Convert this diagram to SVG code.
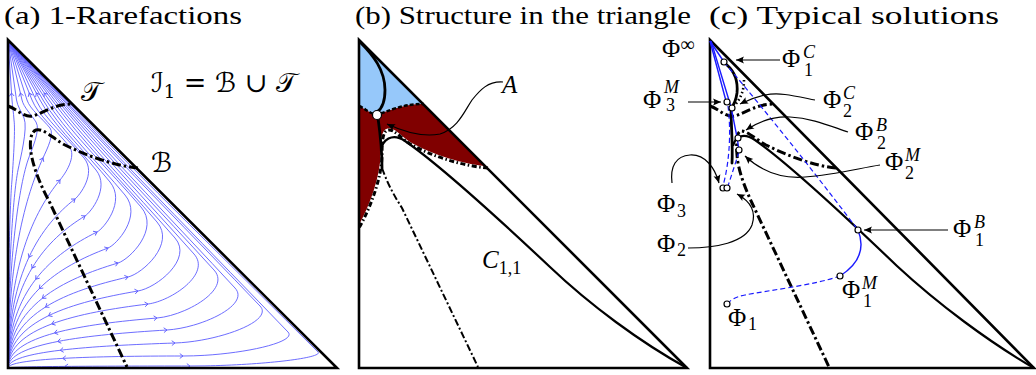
<svg xmlns="http://www.w3.org/2000/svg" width="1036" height="375" viewBox="0 0 1036 375">
<defs>
<style>
.title{font-family:"Liberation Serif","Times New Roman",Times,serif;font-size:25px;fill:#000}
.m{font-family:"Liberation Serif","Times New Roman",Times,serif;font-size:25px;fill:#000}
.cal{font-family:"DejaVu Serif","DejaVu Sans","Noto Sans",serif;font-size:27px;fill:#000}
.s{font-size:18px}
.i{font-style:italic}
.tri{fill:none;stroke:#000;stroke-width:2.6}
.ln{fill:none;stroke:#000;stroke-width:2.2}
.thick{fill:none;stroke:#000;stroke-width:2.8;stroke-linecap:round}
.sl{fill:none;stroke:#5c5cff;stroke-width:0.9}
.dd{fill:none;stroke:#000;stroke-width:3;stroke-dasharray:9 3 2.5 3}
.dd2{fill:none;stroke:#000;stroke-width:2;stroke-dasharray:7 2.5 2 2.5}
.arr{fill:none;stroke:#000;stroke-width:1.2;marker-end:url(#ah)}
.bs{fill:none;stroke:#1a1aff;stroke-width:1.4}
.bd{fill:none;stroke:#1a1aff;stroke-width:1.2;stroke-dasharray:5 3}
.pt{fill:#fff;stroke:#000;stroke-width:1.2}
</style>
<marker id="ah" viewBox="-9 -5 10 10" refX="0" refY="0" markerWidth="10" markerHeight="10" markerUnits="userSpaceOnUse" orient="auto"><path d="M0,0 L-8,-3.5 Q-5.5,0 -8,3.5 Z" fill="#000"/></marker>
<path id="chv" d="M-3.2,-2.4 L0,0 L-3.2,2.4" fill="none" stroke="#5c5cff" stroke-width="0.9"/>
</defs>
<rect width="1036" height="375" fill="#fff"/>

<g id="titles">
<text class="title" x="4" y="24" textLength="238" lengthAdjust="spacingAndGlyphs">(a) 1-Rarefactions</text>
<text class="title" x="355" y="24" textLength="336" lengthAdjust="spacingAndGlyphs">(b) Structure in the triangle</text>
<text class="title" x="709" y="24" textLength="290" lengthAdjust="spacingAndGlyphs">(c) Typical solutions</text>
</g>

<g id="panel-a">
<g id="streamlines">
<path class="sl" d="M8,368 C8,366.4 99,366 190,366 C254,366 324.3,358.3 318,352 C229.8,263.8 147.2,184 66,100 L8,40"/>
<path class="sl" d="M8,368 C8,358.4 95.5,356 183,356 C235.5,356 298.4,342.8 288,332 C209.8,250.8 137.3,177.3 64.5,100 L8,40"/>
<path class="sl" d="M8,368 C8,351.2 91.5,345.8 175,343 C217.5,341.6 274.6,321.3 260,306 C191.1,233.9 125.9,168.7 63,100 L8,40"/>
<path class="sl" d="M8,368 C8,343.2 87.5,334.8 167,330 C201,327.9 250.8,305.1 235,288 C174.1,222.2 116.3,162.7 61,100 L8,40"/>
<path class="sl" d="M8,368 C8,335.2 82.5,324.2 157,318 C185.5,315.6 231.8,289.5 214,270 C159.7,210.5 107.2,156.7 59,100 L8,40"/>
<path class="sl" d="M8,368 C8,327.2 78,312.7 148,304 C171,301.1 211.7,273.9 194,254 C146,200.1 98.9,151.3 57,100 L8,40"/>
<path class="sl" d="M8,368 C8,320 73,302.1 138,291 C156.5,287.9 193.3,259 175,238 C132.8,189.7 90.2,146 54.5,100 L8,40"/>
<path class="sl" d="M8,368 C8,312.8 68,290.9 128,277 C142.5,273.6 175.7,243.7 157,222 C120.2,179.3 81.8,140.7 52,100 L8,40"/>
<path class="sl" d="M8,368 C8,305.6 63,279.5 118,263 C129.5,259.5 160,229.1 141,207 C108.8,169.5 73.4,135.7 49,100 L8,40"/>
<path class="sl" d="M8,368 C8,297.6 58,266.8 108,248 C116.5,244.8 142.5,216 125,195 C97.3,161.7 66.1,131.7 46,100 L8,40"/>
<path class="sl" d="M8,368 C8,290.4 52.5,254 97,232 C103.5,228.8 126,201.6 110,182 C86.6,153.3 59,127.3 43,100 L8,40"/>
<path class="sl" d="M8,368 C8,280.8 46.5,239.3 85,216 C90.5,212.7 110.2,187.7 96,170 C76.4,145.5 52.4,123.3 40,100 L8,40"/>
<path class="sl" d="M8,368 C8,272 41.5,225.1 75,199 C79.5,195.5 96.7,173.3 84,158 C67.2,137.7 45,119.3 36,100 L8,40"/>
<path class="sl" d="M8,368 C8,265.6 34,211.2 60,180 C64.5,174.6 77.4,156.4 69,146 C56.1,129.9 38.1,115.3 32,100 L8,40"/>
<path class="sl" d="M8,368 C8,259.2 25.5,196.2 43,158 C47.5,148.2 54.5,134 50,128 C42,118.2 30,109.3 27,100 L8,40"/>
<path class="sl" d="M8,368 C8,265.6 18,190 28,160 C31,151 41.1,130 36,122 C31.1,114.3 23.7,107.3 22,100 L8,40"/>
<path class="sl" d="M8,368 C8,270 13,195 18,170 C20,160 28.2,128 24,118 C21.4,111.7 17.4,106 16.5,100 L8,40"/>
<path class="sl" d="M8,368 C8,280 10,200 12,180 C13,165 15.5,130 14,120 C13.5,112 12.4,106 12,100 L8,40"/>
</g>
<g id="flow-arrows">
<use href="#chv" transform="translate(64.9,366.4) rotate(180)"/>
<use href="#chv" transform="translate(62.7,358.4) rotate(177)"/>
<use href="#chv" transform="translate(60.2,350.3) rotate(173)"/>
<use href="#chv" transform="translate(57.7,341.5) rotate(169)"/>
<use href="#chv" transform="translate(54.5,333) rotate(165)"/>
<use href="#chv" transform="translate(51.8,324) rotate(160)"/>
<use href="#chv" transform="translate(48.6,315.7) rotate(154)"/>
<use href="#chv" transform="translate(45.5,307) rotate(148)"/>
<use href="#chv" transform="translate(42.4,298.3) rotate(142)"/>
<use href="#chv" transform="translate(39.3,288.6) rotate(135)"/>
<use href="#chv" transform="translate(35.8,279.2) rotate(128)"/>
<use href="#chv" transform="translate(32,268) rotate(121)"/>
<use href="#chv" transform="translate(29,257.3) rotate(115)"/>
<use href="#chv" transform="translate(190,366)"/>
<use href="#chv" transform="translate(183,356)"/>
<use href="#chv" transform="translate(175,343) rotate(-2)"/>
<use href="#chv" transform="translate(167,330) rotate(-3.5)"/>
<use href="#chv" transform="translate(157,318) rotate(-4.7)"/>
<use href="#chv" transform="translate(148,304) rotate(-7)"/>
<use href="#chv" transform="translate(138,291) rotate(-9.6)"/>
<use href="#chv" transform="translate(128,277) rotate(-13)"/>
<use href="#chv" transform="translate(118,263) rotate(-16.7)"/>
<use href="#chv" transform="translate(108,248) rotate(-20.6)"/>
<use href="#chv" transform="translate(97,232) rotate(-26.3)"/>
<use href="#chv" transform="translate(85,216) rotate(-31.2)"/>
<use href="#chv" transform="translate(75,199) rotate(-37.9)"/>
<use href="#chv" transform="translate(60,180) rotate(-50)"/>
<use href="#chv" transform="translate(43,158) rotate(-65)"/>
<use href="#chv" transform="translate(11.5,93) rotate(-94)"/>
<use href="#chv" transform="translate(20.4,93) rotate(-103)"/>
<use href="#chv" transform="translate(29.2,93) rotate(-112)"/>
<use href="#chv" transform="translate(36.3,93) rotate(-118)"/>
<use href="#chv" transform="translate(44.2,93) rotate(-124)"/>
</g>
<path class="dd" d="M8,106 C17,109 24,118 33,116 C45,112 55,104 72,104"/>
<path class="dd" d="M138,168 C115,166 85,155 65,145 C52,138 44,128 36,130 C30,132 29,145 32,158 C35,172 42,188 50,203 L127,367"/>
<path class="tri" d="M8,40 L8,368 L337,368 Z"/>
<text class="cal" x="81" y="101">𝒯</text>
<text class="cal" x="151" y="92">ℐ<tspan class="s" dy="6">1</tspan><tspan dy="-6"> = </tspan>ℬ<tspan> ∪ </tspan>𝒯</text>
<text class="cal" x="151" y="172">ℬ</text>
</g>

<g id="panel-b">
<path id="region-blue" d="M359,40 L424,104 C400,104 388,112 378,114 C371,115 366,109 359,106 Z" fill="#96c8fa"/>
<path id="region-red" d="M359,106 C366,109 371,115 378,114 C388,112 400,104 424,104 L488,168 C462,166 432,156 412,145 C401,139 395,129 388,130 C383,131 382,140 382,155 C382,175 372,205 359,228 Z" fill="#800000"/>
<path d="M359,106 C366,109 371,115 378,114 C388,112 400,104 424,104" fill="none" stroke="#000" stroke-width="2.5" stroke-dasharray="4 2"/>
<path d="M488,168 C462,166 432,156 412,145 C401,139 395,129 388,130 C383,131 382,140 382,155 C382,175 372,205 359,228" fill="none" stroke="#fff" stroke-width="3.2"/>
<path d="M488,168 C462,166 432,156 412,145 C401,139 395,129 388,130 C383,131 382,140 382,155 C382,175 372,205 359,228" fill="none" stroke="#000" stroke-width="3" stroke-dasharray="5 2.5 1.5 2.5"/>
<path class="dd2" d="M382,168 C388,185 395,197 402,208 L478,367"/>
<path class="thick" d="M360,42 C373,55 385,70 385,90 C385,101 383,108 377,112"/>
<path class="thick" d="M378,118 C380,132 382,150 382,168"/>
<path class="ln" d="M381,151 C382,140 392,132 405,141 C440,165 500,220 550,267 C590,305 640,342 687,368"/>
<path class="tri" d="M359,40 L359,368 L687,368 Z"/>
<circle id="pt-A" class="pt" cx="377" cy="115" r="4.5" stroke-width="1.6"/>
<text class="m i" x="502" y="93">A</text>
<text class="m" x="482" y="268"><tspan class="i">C</tspan><tspan class="s" dy="6">1,1</tspan></text>
</g>

<g id="panel-c">
<path class="dd" d="M710,106 C719,109 726,118 735,116 C747,112 757,104 774,104"/>
<path class="dd" d="M836,168 C814,166 786,155 766,145 C755,139 748,131 741,131 C737,132 736,140 737,155 C738,170 745,188 752,203 L829,367"/>
<path d="M744,80 C744,90 741,98 735,105" fill="none" stroke="#000" stroke-width="2.6" stroke-dasharray="1.5 2.5"/>
<path class="thick" d="M727,65 C735,72 738,82 737,93 C736,100 734,105 731,108 C731,125 733,145 732,163"/>
<path class="ln" d="M733,146 C735,137 743,132 755,140 C789,164 848,219 897,266 C938,304 989,342 1034,368"/>
<path class="tri" d="M710,40 L710,368 L1034,368 Z"/>
<g id="paths-blue">
<path class="bs" d="M710,41 L724,62"/>
<path class="bd" d="M724,62 Q790,140 858,230"/>
<path class="bs" d="M858,230 C864,245 862,262 840,276"/>
<path class="bd" d="M840,276 C815,285 770,290 745,295 C735,297 730,300 728,304"/>
<path class="bs" d="M710,41 L726,101"/>
<path class="bd" d="M728,106 C731,130 730,160 723,186"/>
<path class="bs" d="M711,41 L731,107 L737,137 L739,150"/>
<path class="bd" d="M739,152 L728,186"/>
</g>
<g id="states">
<circle class="pt" cx="724" cy="62" r="3"/>
<circle class="pt" cx="727" cy="102" r="3"/>
<circle class="pt" cx="732" cy="108" r="3"/>
<circle class="pt" cx="738" cy="138" r="3"/>
<circle class="pt" cx="739" cy="150" r="3"/>
<circle class="pt" cx="723" cy="188" r="3"/>
<circle class="pt" cx="727" cy="188" r="3"/>
<circle class="pt" cx="858" cy="230" r="3"/>
<circle class="pt" cx="840" cy="276" r="3"/>
<circle class="pt" cx="727" cy="304" r="3"/>
</g>
<g id="labels-c">
<text class="m" x="662" y="57">Φ<tspan font-size="20" dy="-6">∞</tspan></text>
<text class="m" x="782" y="67">Φ</text><text class="m s i" x="803" y="58">C</text><text class="m s" x="804" y="76">1</text>
<text class="m" x="823" y="108">Φ</text><text class="m s i" x="843" y="99">C</text><text class="m s" x="843" y="117">2</text>
<text class="m" x="855" y="140">Φ</text><text class="m s i" x="876" y="131">B</text><text class="m s" x="877" y="149">2</text>
<text class="m" x="885" y="170">Φ</text><text class="m s i" x="905" y="161">M</text><text class="m s" x="905" y="179">2</text>
<text class="m" x="643" y="108">Φ</text><text class="m s i" x="664" y="93">M</text><text class="m s" x="666" y="111">3</text>
<text class="m" x="657" y="212">Φ</text><text class="m s" x="677" y="217">3</text>
<text class="m" x="657" y="252">Φ</text><text class="m s" x="677" y="256">2</text>
<text class="m" x="953" y="237">Φ</text><text class="m s i" x="974" y="228">B</text><text class="m s" x="975" y="246">1</text>
<text class="m" x="842" y="298">Φ</text><text class="m s i" x="862" y="289">M</text><text class="m s" x="863" y="307">1</text>
<text class="m" x="728" y="326">Φ</text><text class="m s" x="748" y="330">1</text>
</g>
</g>

<g id="connectors">
<path class="arr" d="M503,82 C488,81 480,90 472,100 C464,112 458,128 440,134 C420,138 400,130 387,124"/>
<path class="arr" d="M780,60 L736,60"/>
<path class="arr" d="M815,100 C795,96 780,92 765,95 C752,98 746,101 740,104"/>
<path class="arr" d="M848,132 C830,126 812,118 790,117 C772,116 758,122 746,130"/>
<path class="arr" d="M880,165 C860,168 835,175 805,177 C780,179 760,170 745,156"/>
<path class="arr" d="M688,102 L721,102"/>
<path class="arr" d="M672,183 C670,166 676,156 690,155 C705,154 715,168 719,183"/>
<path class="arr" d="M688,248 C715,248 745,243 752,225 C757,210 748,200 737,194"/>
<path class="arr" d="M948,230 L864,230"/>
</g>
</svg>
